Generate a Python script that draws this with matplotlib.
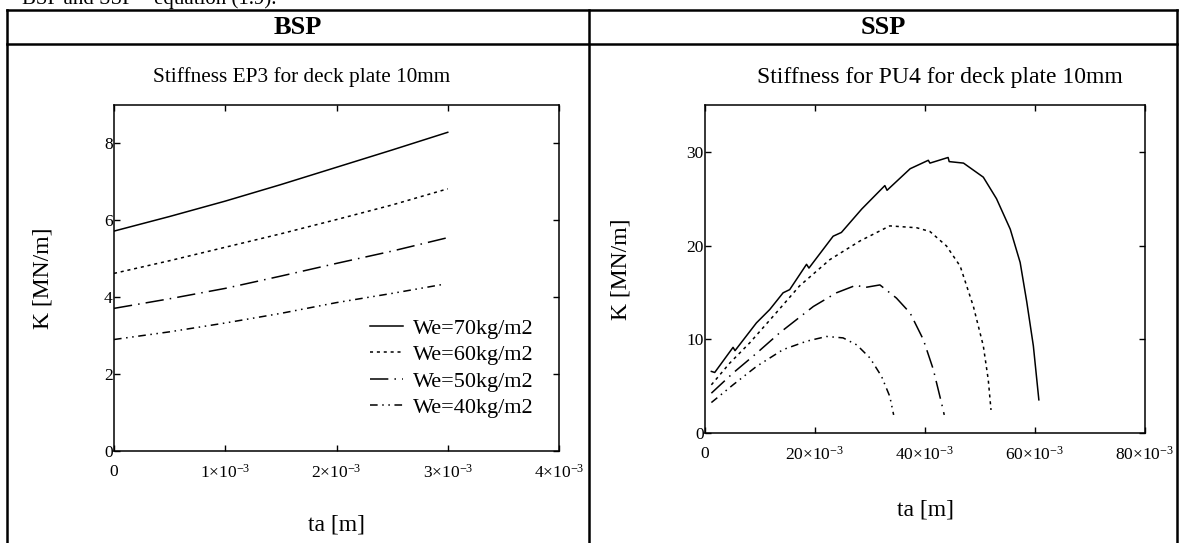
import numpy as np
import matplotlib
matplotlib.use("Agg")
import matplotlib.pyplot as plt
from matplotlib.lines import Line2D

plt.rcParams['font.family'] = ['Liberation Serif', 'DejaVu Serif']
plt.rcParams['mathtext.fontset'] = 'custom'
plt.rcParams['mathtext.rm'] = 'Liberation Serif'
plt.rcParams['mathtext.it'] = 'Liberation Serif:italic'

# ---- data: BSP (EP3) ----
bsp_ta = [0, 0.5e-3, 1.0e-3, 1.5e-3, 2.0e-3, 2.5e-3, 3.0e-3]
bsp_ta_40 = [0, 0.5e-3, 1.0e-3, 1.5e-3, 2.0e-3, 2.5e-3, 2.95e-3]
bsp_k70 = [5.72, 6.10, 6.50, 6.93, 7.38, 7.83, 8.29]
bsp_k60 = [4.62, 4.95, 5.30, 5.65, 6.02, 6.40, 6.82]
bsp_k50 = [3.71, 3.96, 4.23, 4.55, 4.88, 5.20, 5.55]
bsp_k40 = [2.90, 3.10, 3.33, 3.58, 3.86, 4.10, 4.33]

# ---- data: SSP (PU4), ta values in 1e-3 m ----
ssp_ta70 = [1.16, 1.77, 5.10, 5.46, 9.35, 11.78, 14.2, 15.4, 18.46, 18.9, 23.3, 24.8,
            28.5, 32.7, 33.1, 37.3, 40.6, 40.9, 44.2, 44.4, 47.0, 50.6, 53.0, 55.5,
            57.3, 58.5, 59.7, 60.7]
ssp_k70 = [6.57, 6.46, 9.14, 8.79, 11.75, 13.18, 14.96, 15.3, 18.0, 17.6, 21.0, 21.4,
           23.9, 26.4, 25.9, 28.2, 29.1, 28.8, 29.4, 28.96, 28.8, 27.3, 25.0, 21.75,
           18.2, 14.0, 9.3, 3.54]
ssp_ta60 = [1.16, 4.5, 8.1, 12.4, 17.2, 22.7, 28.2, 33.6, 38.5, 40.9, 43.9, 46.4,
            48.8, 50.6, 51.5, 52.0]
ssp_k60 = [5.14, 7.46, 9.6, 12.46, 15.7, 18.5, 20.5, 22.1, 21.9, 21.5, 19.96, 17.8,
           13.5, 9.3, 5.7, 2.46]
ssp_ta50 = [1.16, 5.1, 9.35, 13.6, 19.7, 23.9, 27.6, 28.8, 31.8, 34.8, 37.3, 39.7,
            41.5, 43.0, 43.5]
ssp_k50 = [4.25, 6.4, 8.5, 10.7, 13.5, 14.96, 15.8, 15.5, 15.8, 14.4, 12.8, 9.96,
           6.8, 3.2, 1.93]
ssp_ta40 = [1.16, 5.1, 9.35, 14.2, 18.5, 22.1, 25.1, 27.6, 30.0, 32.1, 33.6, 34.3]
ssp_k40 = [3.25, 5.14, 7.1, 8.9, 9.8, 10.3, 10.15, 9.4, 8.0, 6.04, 3.9, 1.93]

labels = ["We=70kg/m2", "We=60kg/m2", "We=50kg/m2", "We=40kg/m2"]

W, H = 1179, 543
fig = plt.figure(figsize=(W / 100, H / 100), dpi=100)


def px_rect(l, t, r, b):
    return [l / W, 1 - b / H, (r - l) / W, (b - t) / H]


def fig_line(x0, y0, x1, y1, lw=1.8):
    fig.add_artist(Line2D([x0 / W, x1 / W], [1 - y0 / H, 1 - y1 / H],
                          transform=fig.transFigure, color="black", lw=lw))


def style_axes(ax):
    for sp in ax.spines.values():
        sp.set_linewidth(1.1)
    ax.tick_params(direction="in", top=True, right=True, length=4.5, width=1.0,
                   labelsize=12.5)
    ax.tick_params(axis="x", pad=9)
    ax.tick_params(axis="y", pad=1)


styles = [dict(ls="-"), dict(ls=(0, (2, 2.5))), dict(ls=(0, (12, 4, 1, 4))),
          dict(ls=(0, (5, 3, 1, 3, 1, 3)))]

# table frame
fig_line(7, 10, 1177, 10)
fig_line(7, 44, 1177, 44)
fig_line(7, 10, 7, 543)
fig_line(589, 10, 589, 543)
fig_line(1177, 10, 1177, 543)

# cut-off caption line above the table
fig.text(22 / W, 1 - 4 / H, "BSP and SSP \u2013 equation (1.9).", fontsize=15,
         va="baseline", ha="left")

fig.text(298 / W, 1 - 27 / H, "BSP", fontsize=19, fontweight="bold", ha="center", va="center")
fig.text(883 / W, 1 - 27 / H, "SSP", fontsize=19, fontweight="bold", ha="center", va="center")

# left plot
ax1 = fig.add_axes(px_rect(114, 105, 559, 451))
for k, ta, st, lab in zip([bsp_k70, bsp_k60, bsp_k50, bsp_k40],
                          [bsp_ta, bsp_ta, bsp_ta, bsp_ta_40], styles, labels):
    ax1.plot(ta, k, color="black", lw=1.1, label=lab, **st)
ax1.set_xlim(0, 4e-3)
ax1.set_ylim(0, 9)
ax1.set_xticks([0, 1e-3, 2e-3, 3e-3, 4e-3])
ax1.set_xticklabels(["0", "1\u00d710$^{-3}$", "2\u00d710$^{-3}$", "3\u00d710$^{-3}$",
                     "4\u00d710$^{-3}$"])
ax1.set_yticks([0, 2, 4, 6, 8])
style_axes(ax1)
ax1.set_ylabel("K [MN/m]", fontsize=17)
ax1.set_xlabel("ta [m]", fontsize=17)
ax1.yaxis.set_label_coords(-0.16, 0.5)
ax1.xaxis.set_label_coords(0.5, -0.215)
ax1.xaxis.label.set_va("center")
ax1.yaxis.label.set_va("center")
fig.text(302 / W, 1 - 77 / H, "Stiffness EP3 for deck plate 10mm", fontsize=15.3,
         ha="center", va="center")
ax1.legend(loc="upper left", bbox_to_anchor=((370 - 114) / 445, (451 - 318) / 346),
           frameon=False, fontsize=16, handlelength=1.5, handletextpad=0.45,
           labelspacing=0.27, borderpad=0, borderaxespad=0)

# right plot
ax2 = fig.add_axes(px_rect(705, 105, 1145, 433))
for ta, k, st in zip([ssp_ta70, ssp_ta60, ssp_ta50, ssp_ta40],
                     [ssp_k70, ssp_k60, ssp_k50, ssp_k40], styles):
    ax2.plot(np.array(ta) * 1e-3, k, color="black", lw=1.1, **st)
ax2.set_xlim(0, 80e-3)
ax2.set_ylim(0, 35)
ax2.set_xticks([0, 20e-3, 40e-3, 60e-3, 80e-3])
ax2.set_xticklabels(["0", "20\u00d710$^{-3}$", "40\u00d710$^{-3}$", "60\u00d710$^{-3}$",
                     "80\u00d710$^{-3}$"])
ax2.set_yticks([0, 10, 20, 30])
style_axes(ax2)
ax2.set_ylabel("K [MN/m]", fontsize=17)
ax2.set_xlabel("ta [m]", fontsize=17)
ax2.yaxis.set_label_coords(-0.191, 0.5)
ax2.xaxis.set_label_coords(0.502, -0.235)
ax2.xaxis.label.set_va("center")
ax2.yaxis.label.set_va("center")
fig.text(940 / W, 1 - 77 / H, "Stiffness for PU4 for deck plate 10mm", fontsize=17,
         ha="center", va="center")

fig.savefig("out.png", dpi=100)
